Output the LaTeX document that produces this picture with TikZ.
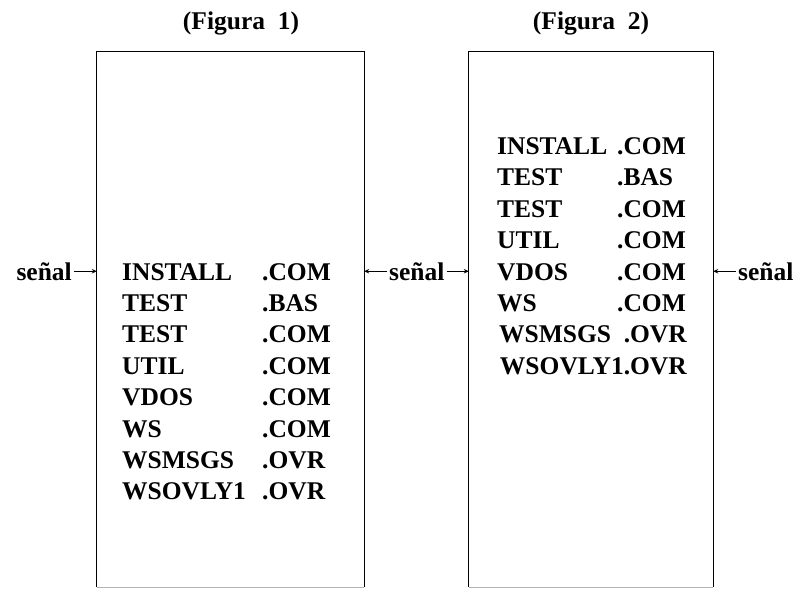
\documentclass[tikz,border=0pt]{standalone}
\usepackage{fontspec}
\setmainfont{Liberation Serif}
\usetikzlibrary{arrows.meta}
\begin{document}
\begin{tikzpicture}[x=1pt,y=-1pt,
  txt/.style={inner sep=0pt,anchor=base west,font=\fontsize{25.5}{25.5}\selectfont\bfseries},
  txte/.style={inner sep=0pt,anchor=base east,font=\fontsize{25.5}{25.5}\selectfont\bfseries},
  ttl/.style={inner sep=0pt,anchor=base,font=\fontsize{25.5}{25.5}\selectfont\bfseries},
  sigl/.style={inner sep=0pt,font=\fontsize{25.5}{25.5}\selectfont\bfseries},
  boxn/.style={inner sep=0pt,minimum width=#1,minimum height=535pt,draw=none},
  side/.style={line width=1pt,black},
  sig/.style={line width=0.9pt,-{Stealth[length=5pt,width=4.5pt]}}]
\useasboundingbox (0,0) rectangle (796,589);
% titles
\node[ttl] (t1) at (241,30) {(Figura\ \ 1)};
\node[ttl] (t2) at (591,30) {(Figura\ \ 2)};
% boxes
\node[boxn=267pt] (b1) at (230.5,319.5) {};
\node[boxn=244pt] (b2) at (591,319.5) {};
\draw[side] (b1.south west) -- (b1.north west) -- (b1.north east) -- (b1.south east);
\draw[gray!60,line width=0.6pt] (b1.south west) -- (b1.south east);
\draw[side] (b2.south west) -- (b2.north west) -- (b2.north east) -- (b2.south east);
\draw[gray!60,line width=0.6pt] (b2.south west) -- (b2.south east);
% figure 1 contents
\foreach \n/\e [count=\i from 0] in {INSTALL/.COM,TEST/.BAS,TEST/.COM,UTIL/.COM,VDOS/.COM,WS/.COM,WSMSGS/.OVR,WSOVLY1/.OVR}{
  \node[txt] (a\i) at (122,{280+31.4*\i}) {\n};
  \node[txt] (ae\i) at (262,{280+31.4*\i}) {\e};
}
% figure 2 contents
\foreach \n/\e [count=\i from 0] in {INSTALL/.COM,TEST/.BAS,TEST/.COM,UTIL/.COM,VDOS/.COM,WS/.COM}{
  \node[txt] (c\i) at (497,{154.4+31.4*\i}) {\n};
  \node[txt] (ce\i) at (617,{154.4+31.4*\i}) {\e};
}
\node[txt] (c6) at (499,{154.4+31.4*6}) {WSMSGS};
\node[txte] (ce6) at (687,{154.4+31.4*6}) {.OVR};
\node[txte] (c7) at (687,{154.4+31.4*7}) {WSOVLY1.OVR};
% signal labels
\node[sigl,anchor=base east] (s1) at (72,280) {señal};
\node[sigl,anchor=base west] (s2) at (389,280) {señal};
\node[sigl,anchor=base west] (s3) at (738,280) {señal};
\draw[sig] ([xshift=2pt]s1.east) -- (s1.east -| b1.west);
\draw[sig] ([xshift=-2pt]s2.west) -- (s2.west -| b1.east);
\draw[sig] ([xshift=2pt]s2.east) -- (s2.east -| b2.west);
\draw[sig] ([xshift=-2pt]s3.west) -- (s3.west -| b2.east);
\end{tikzpicture}
\end{document}
